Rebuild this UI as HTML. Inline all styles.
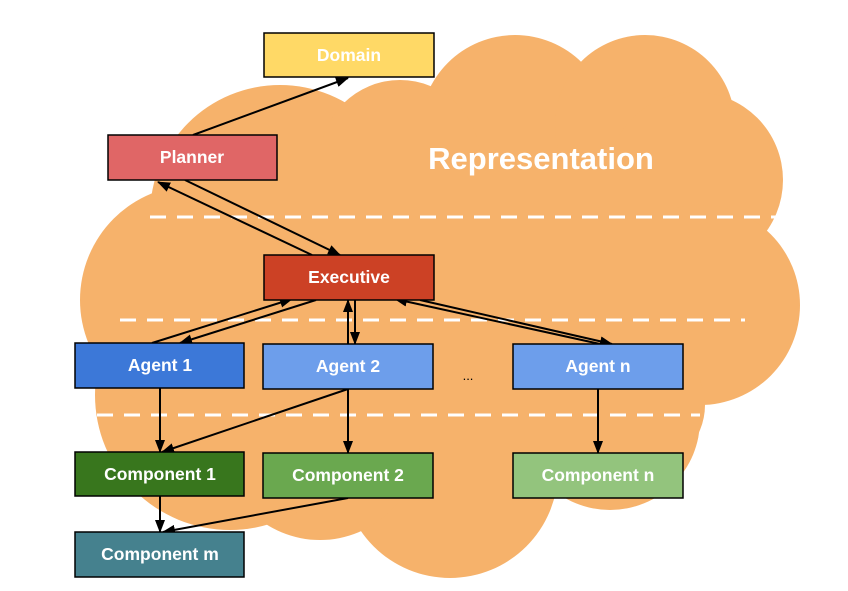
<!DOCTYPE html>
<html><head><meta charset="utf-8"><style>
html,body{margin:0;padding:0;background:#fff;}
svg{display:block;font-family:"Liberation Sans",Arial,sans-serif;font-weight:bold;}
</style></head><body>
<svg width="848" height="591" viewBox="0 0 848 591" xmlns="http://www.w3.org/2000/svg">
<defs>
<marker id="a" markerWidth="13" markerHeight="10" refX="12" refY="5" orient="auto" markerUnits="userSpaceOnUse">
<path d="M0,0 L13,5 L0,10 z" fill="#000"/></marker>
</defs>
<g fill="#f6b26b">
<circle cx="280" cy="215" r="130"/>
<circle cx="515" cy="130" r="95"/>
<circle cx="645" cy="125" r="90"/>
<circle cx="695" cy="180" r="88"/>
<circle cx="700" cy="305" r="100"/>
<circle cx="610" cy="420" r="90"/>
<circle cx="640" cy="405" r="65"/>
<circle cx="450" cy="470" r="108"/>
<circle cx="320" cy="440" r="100"/>
<circle cx="230" cy="395" r="135"/>
<circle cx="195" cy="300" r="115"/>
<circle cx="400" cy="160" r="80"/>
<rect x="200" y="150" width="470" height="290"/>
</g>
<g stroke="#fff" stroke-width="3" stroke-dasharray="16 11">
<line x1="150" y1="217" x2="778" y2="217"/>
<line x1="120" y1="320" x2="745" y2="320"/>
<line x1="97" y1="415" x2="700" y2="415"/>
</g>
<text x="541" y="169" fill="#fff" font-size="31" text-anchor="middle">Representation</text>
<g stroke="#000" stroke-width="2" fill="none" marker-end="url(#a)">
<line x1="193" y1="135" x2="348" y2="78"/>
<line x1="312" y1="255" x2="158" y2="182"/>
<line x1="185" y1="180" x2="340" y2="255"/>
<line x1="316" y1="300" x2="180" y2="343"/>
<line x1="152" y1="343" x2="292" y2="299"/>
<line x1="348" y1="344" x2="348" y2="300"/>
<line x1="355" y1="300" x2="355" y2="344"/>
<line x1="600" y1="344" x2="395" y2="299"/>
<line x1="420" y1="300" x2="612" y2="344"/>
<line x1="160" y1="388" x2="160" y2="452"/>
<line x1="348" y1="389" x2="162" y2="452"/>
<line x1="348" y1="389" x2="348" y2="453"/>
<line x1="598" y1="389" x2="598" y2="453"/>
<line x1="160" y1="496" x2="160" y2="532"/>
<line x1="348" y1="498" x2="163" y2="532"/>
</g>
<g stroke="#000" stroke-width="1.5">
<rect x="264" y="33" width="170" height="44" fill="#ffd966"/>
<rect x="108" y="135" width="169" height="45" fill="#e06666"/>
<rect x="264" y="255" width="170" height="45" fill="#cc4125"/>
<rect x="75" y="343" width="169" height="45" fill="#3c78d8"/>
<rect x="263" y="344" width="170" height="45" fill="#6d9eeb"/>
<rect x="513" y="344" width="170" height="45" fill="#6d9eeb"/>
<rect x="75" y="452" width="169" height="44" fill="#38761d"/>
<rect x="263" y="453" width="170" height="45" fill="#6aa84f"/>
<rect x="513" y="453" width="170" height="45" fill="#93c47d"/>
<rect x="75" y="532" width="169" height="45" fill="#45818e"/>
</g>
<g fill="#fff" font-size="17.5" text-anchor="middle">
<text x="349" y="61">Domain</text>
<text x="192" y="163">Planner</text>
<text x="349" y="283">Executive</text>
<text x="160" y="371">Agent 1</text>
<text x="348" y="372">Agent 2</text>
<text x="598" y="372">Agent n</text>
<text x="160" y="480">Component 1</text>
<text x="348" y="481">Component 2</text>
<text x="598" y="481">Component n</text>
<text x="160" y="560">Component m</text>
</g>
<text x="468" y="380" font-size="13" font-weight="normal" text-anchor="middle" fill="#000">...</text>
</svg>
</body></html>
